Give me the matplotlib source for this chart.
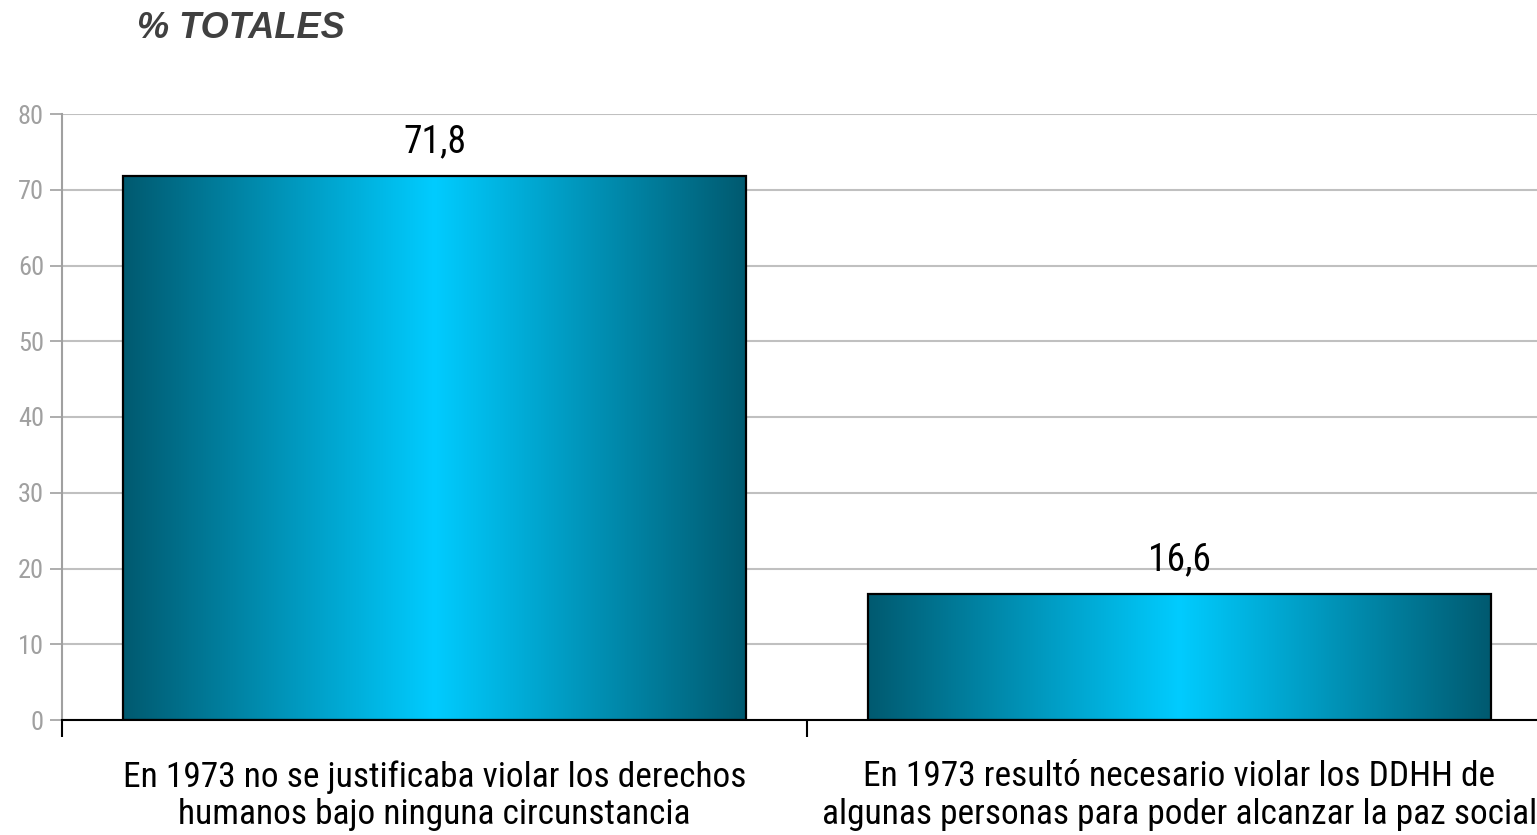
import numpy as np
import matplotlib
matplotlib.use("Agg")
import matplotlib.pyplot as plt
from matplotlib.colors import LinearSegmentedColormap

# --- data ---
categories = ["En 1973 no se justificaba violar los derechos\nhumanos bajo ninguna circunstancia",
              "En 1973 resultó necesario violar los DDHH de\nalgunas personas para poder alcanzar la paz social"]
values = [71.8, 16.6]
value_labels = ["71,8", "16,6"]
yticks = [0, 10, 20, 30, 40, 50, 60, 70, 80]

narrow = ["Roboto Condensed", "DejaVu Sans"]
plt.rcParams['font.family'] = narrow

fig = plt.figure(figsize=(15.37, 8.35), dpi=100)
ax = fig.add_axes([62/1537, 1-720/835, 1490/1537, 606/835])

x = np.arange(len(values))
width = 0.836
bars = ax.bar(x, values, width=width, facecolor="none", edgecolor="black",
              linewidth=1.6, zorder=3)

# horizontal gradient fill: dark teal -> bright cyan -> dark teal
cmap = LinearSegmentedColormap.from_list("bar", ["#005a70", "#00ccff", "#005a70"])
grad = np.linspace(0, 1, 256).reshape(1, -1)
for b in bars:
    x0, y0 = b.get_x(), b.get_y()
    im = ax.imshow(grad, cmap=cmap, aspect="auto", zorder=2,
                   extent=[x0, x0 + b.get_width(), y0, y0 + b.get_height()])
    im.set_clip_path(b)

for xi, v, lab in zip(x, values, value_labels):
    ax.annotate(lab, (xi, v), xytext=(0, 17), textcoords="offset points",
                ha="center", va="baseline", fontsize=27, color="black")

ax.set_xlim(-0.5, 1.5)
ax.set_ylim(0, 80)
ax.set_yticks(yticks)
ax.yaxis.grid(True, color="#c0c0c0", linewidth=1.5, zorder=0)
ax.set_axisbelow(True)

ax.tick_params(axis="y", colors="#a0a0a0", labelsize=19, length=9, width=1.2, pad=4)
ax.set_xticks([-0.5, 0.5, 1.5])
ax.set_xticklabels([])
ax.tick_params(axis="x", which="major", length=12, width=1.5, color="black")
ax.set_xticks(x, minor=True)
ax.set_xticklabels(categories, minor=True, fontsize=25.5, linespacing=1.17)
ax.tick_params(axis="x", which="minor", length=0, pad=29)

for s in ["top", "right"]:
    ax.spines[s].set_visible(False)
ax.spines["left"].set_color("#a0a0a0")
ax.spines["left"].set_linewidth(1.5)
ax.spines["bottom"].set_color("black")
ax.spines["bottom"].set_linewidth(1.5)

fig.text(137/1537, 1-38/835, "% TOTALES", fontsize=26, fontweight="bold",
         fontstyle="italic", color="#404040", va="baseline", ha="left",
         family=["Liberation Sans", "DejaVu Sans"])

plt.savefig("out.png", dpi=100)
plt.close(fig)
